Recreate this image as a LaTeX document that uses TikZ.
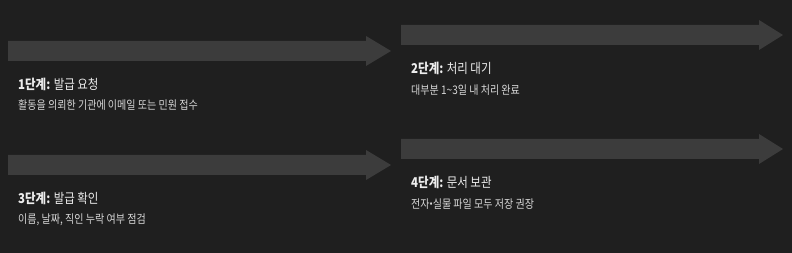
\documentclass[tikz,border=0pt]{standalone}
\usepackage{fontspec}
\setmainfont[FakeStretch=0.85]{Noto Sans CJK KR}
\usepackage{xcolor}
\definecolor{ink}{HTML}{1F1F1F}
\definecolor{band}{HTML}{3C3C3C}
\definecolor{head}{HTML}{EDEDED}
\definecolor{note}{HTML}{D8D8D8}
\usetikzlibrary{positioning}
\tikzset{
  stage/.style ={fill=band},
  title/.style ={anchor=base west,inner sep=0pt,text=head,
                 font=\fontsize{13.5}{16}\selectfont},
  sub/.style   ={anchor=base west,inner sep=0pt,text=note,
                 font=\fontsize{11.8}{14}\selectfont},
}
\newcommand{\stepno}[1]{\textbf{#1단계:}}

\begin{document}
\begin{tikzpicture}[x=1pt,y=-1pt]
\useasboundingbox[fill=ink] (0,0) rectangle (792,253);
% arrows
\fill[stage] (8,41) -- (366,41) -- (366,36) -- (391,51) -- (366,66) -- (366,61) -- (8,61) -- cycle;
\fill[stage] (401,25) -- (759,25) -- (759,20) -- (783,35) -- (759,50) -- (759,45) -- (401,45) -- cycle;
\fill[stage] (8,155) -- (366,155) -- (366,150) -- (391,165) -- (366,180) -- (366,175) -- (8,175) -- cycle;
\fill[stage] (401,139) -- (759,139) -- (759,134) -- (783,149) -- (759,164) -- (759,159) -- (401,159) -- cycle;
% stages
\node[title] (t1) at (18,89.3) {\stepno{1} 발급 요청};
\node[sub]   (s1) at (18,109.5) {활동을 의뢰한 기관에 이메일 또는 민원 접수};
\node[title] (t2) at (411,73.3) {\stepno{2} 처리 대기};
\node[sub]   (s2) at (411,94.5) {대부분 1\textasciitilde3일 내 처리 완료};
\node[title] (t3) at (18,203.3) {\stepno{3} 발급 확인};
\node[sub]   (s3) at (18,224) {이름, 날짜, 직인 누락 여부 점검};
\node[title] (t4) at (411,188) {\stepno{4} 문서 보관};
\node[sub]   (s4) at (411,208.5) {전자\kern-1.5pt{\bfseries·}\kern-1.5pt 실물 파일 모두 저장 권장};
\end{tikzpicture}
\end{document}
